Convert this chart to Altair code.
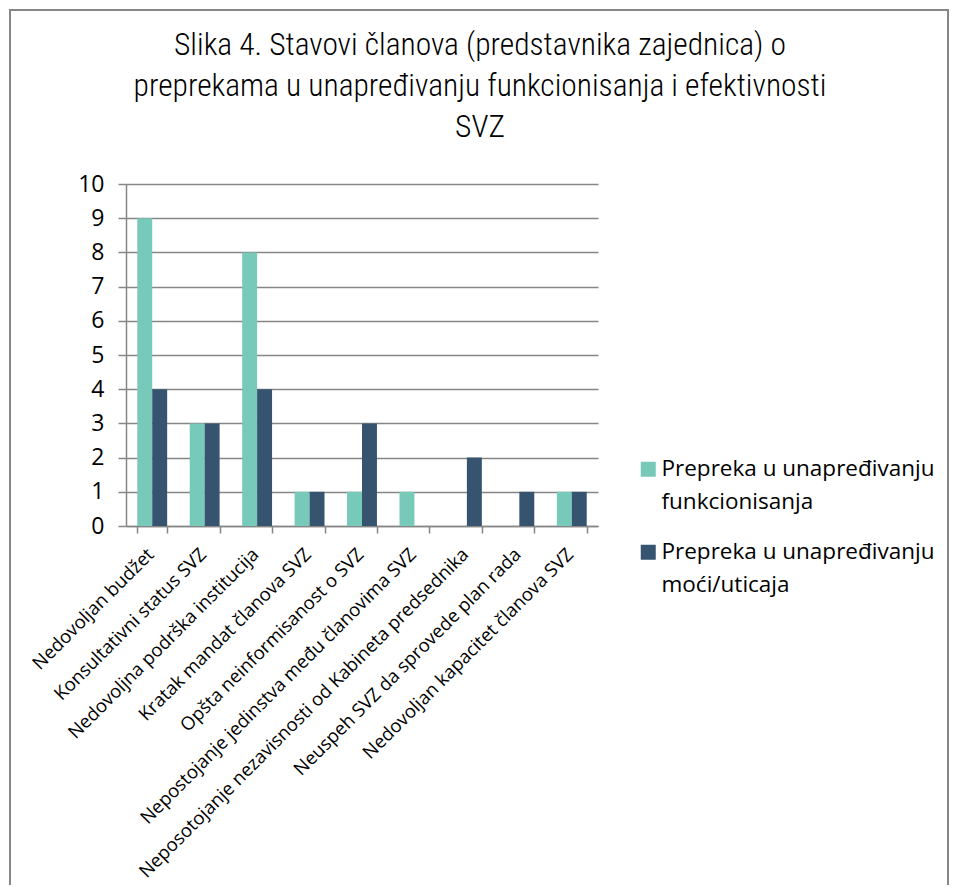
import altair as alt
import pandas as pd

categories = [
    "Nedovoljan budžet",
    "Konsultativni status SVZ",
    "Nedovoljna podrška institucija",
    "Kratak mandat članova SVZ",
    "Opšta neinformisanost o SVZ",
    "Nepostojanje jedinstva među članovima SVZ",
    "Neposotojanje nezavisnosti od Kabineta predsednika",
    "Neuspeh SVZ da sprovede plan rada",
    "Nedovoljan kapacitet članova SVZ",
]
series = ["Prepreka u unapređivanju funkcionisanja", "Prepreka u unapređivanju moći/uticaja"]
vals_funkc = [9, 3, 8, 1, 1, 1, 0, 0, 1]
vals_moc = [4, 3, 4, 1, 3, 0, 2, 1, 1]
colors = ["#77C9B9", "#36546F"]

rows = []
for c, a, b in zip(categories, vals_funkc, vals_moc):
    rows.append({"cat": c, "series": series[0], "value": a})
    rows.append({"cat": c, "series": series[1], "value": b})
df = pd.DataFrame(rows)

FONT = "Open Sans"
GRAY = "#868686"

bars = alt.Chart(df).mark_bar().encode(
    x=alt.X("cat:N", sort=categories, title=None,
            scale=alt.Scale(paddingInner=0.43, paddingOuter=0.215),
            axis=alt.Axis(labelAngle=-45, labelAlign="right", labelBaseline="middle",
                          labelFont=FONT, labelFontSize=18.5, labelColor="#000000",
                          labelPadding=18, labelOffset=-2, labelLimit=700, tickBand="extent",
                          tickSize=7, tickColor=GRAY, domainColor=GRAY,
                          tickWidth=1.5, domainWidth=1.5, grid=False)),
    xOffset=alt.XOffset("series:N", sort=series),
    y=alt.Y("value:Q", title=None,
            scale=alt.Scale(domain=[0, 10], nice=False),
            axis=alt.Axis(values=list(range(0, 11)), labelFont=FONT, labelFontSize=23,
                          labelColor="#000000", tickSize=8, tickColor=GRAY,
                          domainColor=GRAY, gridColor=GRAY, gridWidth=1.5,
                          tickWidth=1.5, domainWidth=1.5, labelPadding=14)),
    color=alt.Color("series:N", sort=series,
                    scale=alt.Scale(domain=series, range=colors),
                    legend=alt.Legend(title=None, orient="none", legendX=511, legendY=274,
                                      labelFont=FONT, labelFontSize=22.5, labelColor="#000000",
                                      symbolType="square", symbolSize=225,
                                      symbolStrokeWidth=0, symbolOpacity=1,
                                      labelExpr="[slice(datum.label, 0, 24), slice(datum.label, 25)]",
                                      labelLimit=400, rowPadding=27, labelOffset=2)),
)

frame = alt.Chart(pd.DataFrame({"k": [0]})).mark_rect(
    fill=None, stroke=GRAY, strokeWidth=2
).encode(
    x=alt.value(-116), x2=alt.value(822), y=alt.value(-174), y2=alt.value(740)
)

chart = alt.layer(frame, bars).properties(
    width=472, height=342,
    autosize=alt.AutoSizeParams(type="none"),
    padding={"left": 118, "top": 176, "right": 352, "bottom": 359},
    title=alt.TitleParams(
        text=["Slika 4. Stavovi članova (predstavnika zajednica) o",
              "preprekama u unapređivanju funkcionisanja i efektivnosti",
              "SVZ"],
        font="Liberation Sans Narrow, Arial Narrow, Roboto Condensed, Liberation Sans",
        fontSize=31.5, fontWeight=300,
        color="#000000", anchor="middle", frame="group", dx=118,
        offset=0, dy=134, lineHeight=41,
    ),
    config=alt.Config(view=alt.ViewConfig(stroke=None),
                      style={"guide-label": {"lineHeight": 33}}),
)

chart.save("out.html", embed_options={"renderer": "svg", "actions": False})
